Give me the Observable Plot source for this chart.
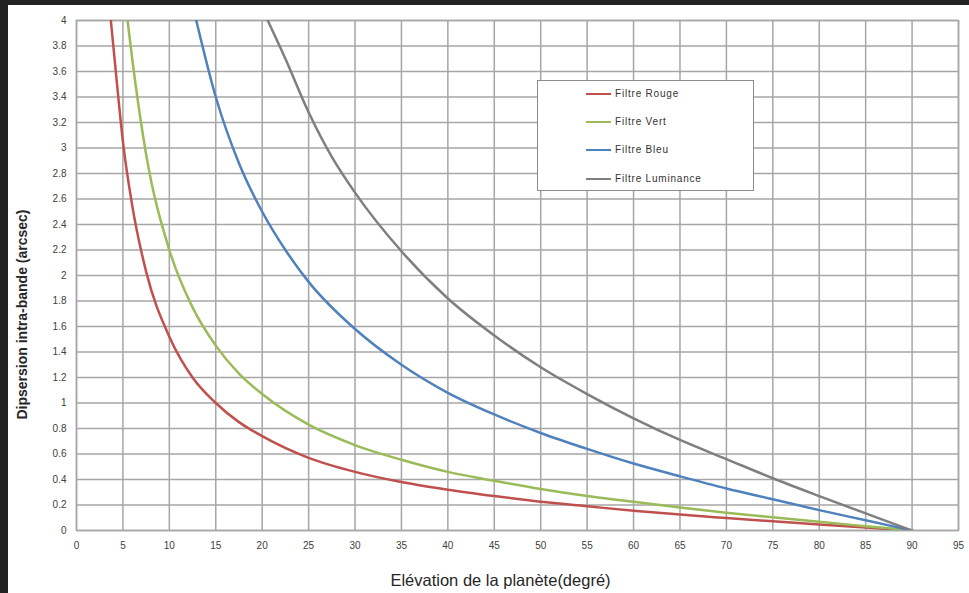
<!DOCTYPE html>
<html>
<head>
<meta charset="utf-8">
<script src="https://cdn.jsdelivr.net/npm/d3@7"></script>
<script src="https://cdn.jsdelivr.net/npm/@observablehq/plot@0.6"></script>
<style>
  html, body { margin: 0; padding: 0; background: #222; }
  #wrap { position: absolute; left: 8px; top: 5px; width: 961px; height: 588px; background: #fff; overflow: hidden; }
  #legend { position: absolute; left: 529px; top: 75px; width: 215px; height: 109px; border: 1px solid #8c8c8c; background: #fff; font-family: "Liberation Sans", Arial, sans-serif; font-size: 10px; letter-spacing: 0.8px; color: #333; }
  .item { position: absolute; left: 48px; height: 12px; }
  .item .sw { position: absolute; left: 0; top: 5px; width: 25px; height: 2px; }
  .item .lb { position: absolute; left: 29px; top: 0; white-space: nowrap; line-height: 12px; }
</style>
</head>
<body>
<div id="wrap"><div id="chart"></div><div id="legend"></div></div>
<script>
const series = ["Filtre Rouge", "Filtre Vert", "Filtre Bleu", "Filtre Luminance"];
const colors = ["#c0504d", "#9bbb59", "#4f81bd", "#7f7f7f"];

const rougeElev = [3.7, 4.5, 5, 6, 7.5, 10, 12.5, 15, 17.5, 20, 25, 30, 35, 40, 45, 50, 55, 60, 65, 70, 75, 80, 85, 90];
const rougeDisp = [4.0, 3.4, 3.05, 2.55, 2.03, 1.52, 1.2, 1.0, 0.85, 0.74, 0.57, 0.46, 0.38, 0.32, 0.27, 0.225, 0.19, 0.155, 0.125, 0.098, 0.072, 0.047, 0.023, 0];

const vertElev = [5.5, 6, 7.5, 10, 12.5, 15, 17.5, 20, 25, 30, 35, 40, 45, 50, 55, 60, 65, 70, 75, 80, 85, 90];
const vertDisp = [4.0, 3.7, 2.95, 2.2, 1.75, 1.45, 1.23, 1.07, 0.83, 0.67, 0.555, 0.46, 0.39, 0.325, 0.27, 0.225, 0.18, 0.14, 0.104, 0.068, 0.034, 0];

const bleuElev = [12.9, 15, 17.5, 20, 22.5, 25, 30, 35, 40, 45, 50, 55, 60, 65, 70, 75, 80, 85, 90];
const bleuDisp = [4.0, 3.4, 2.88, 2.5, 2.2, 1.95, 1.58, 1.3, 1.08, 0.91, 0.765, 0.64, 0.525, 0.425, 0.33, 0.245, 0.16, 0.08, 0];

const lumElev = [20.6, 22.5, 25, 27.5, 30, 35, 40, 45, 50, 55, 60, 65, 70, 75, 80, 85, 90];
const lumDisp = [4.0, 3.7, 3.28, 2.93, 2.65, 2.19, 1.82, 1.53, 1.28, 1.07, 0.88, 0.71, 0.56, 0.41, 0.27, 0.134, 0];

const xTicks = [0, 5, 10, 15, 20, 25, 30, 35, 40, 45, 50, 55, 60, 65, 70, 75, 80, 85, 90, 95];
const yTicks = [0, 0.2, 0.4, 0.6, 0.8, 1, 1.2, 1.4, 1.6, 1.8, 2, 2.2, 2.4, 2.6, 2.8, 3, 3.2, 3.4, 3.6, 3.8, 4];

const xLabel = "Elévation de la planète(degré)";
const yLabel = "Dipsersion intra-bande (arcsec)";

const elevs = [rougeElev, vertElev, bleuElev, lumElev];
const disps = [rougeDisp, vertDisp, bleuDisp, lumDisp];
const data = [];
series.forEach((s, i) => elevs[i].forEach((e, j) => data.push({series: s, elev: e, disp: disps[i][j]})));

const gridStyle = {stroke: "#a6a6a6", strokeOpacity: 1, strokeWidth: 1.5};

const chart = Plot.plot({
  width: 961,
  height: 588,
  marginLeft: 68,
  marginRight: 11,
  marginTop: 15,
  marginBottom: 63,
  style: {fontFamily: "'Liberation Sans', Arial, sans-serif", fontSize: "10px", color: "#404040", background: "white"},
  x: {domain: [0, 95]},
  y: {domain: [0, 4]},
  color: {domain: series, range: colors},
  marks: [
    Plot.gridX(xTicks, gridStyle),
    Plot.gridY(yTicks, gridStyle),
    Plot.frame(gridStyle),
    Plot.axisX(xTicks, {tickSize: 0, tickPadding: 11, label: null}),
    Plot.axisY(yTicks, {tickSize: 0, tickPadding: 10, label: null, tickFormat: d => String(+d.toFixed(1))}),
    Plot.line(data, {x: "elev", y: "disp", z: "series", stroke: "series", strokeWidth: 2.5, curve: "monotone-x", clip: true}),
    Plot.text([xLabel], {text: d => d, frameAnchor: "bottom", lineAnchor: "middle", textAnchor: "middle", dy: 50, dx: -17, fontSize: 16.5, fill: "#262626"}),
    Plot.text([yLabel], {text: d => d, frameAnchor: "left", lineAnchor: "middle", textAnchor: "middle", rotate: -90, dx: -54, dy: 39, fontSize: 14, fontWeight: "bold", fill: "#262626"})
  ]
});
document.getElementById("chart").appendChild(chart);

const legend = document.getElementById("legend");
const itemTops = [7, 35, 63, 92];
series.forEach((s, i) => {
  const it = document.createElement("div");
  it.className = "item";
  it.style.top = itemTops[i] + "px";
  const sw = document.createElement("div");
  sw.className = "sw";
  sw.style.background = colors[i];
  const lb = document.createElement("div");
  lb.className = "lb";
  lb.textContent = s;
  it.appendChild(sw);
  it.appendChild(lb);
  legend.appendChild(it);
});
</script>
</body>
</html>
